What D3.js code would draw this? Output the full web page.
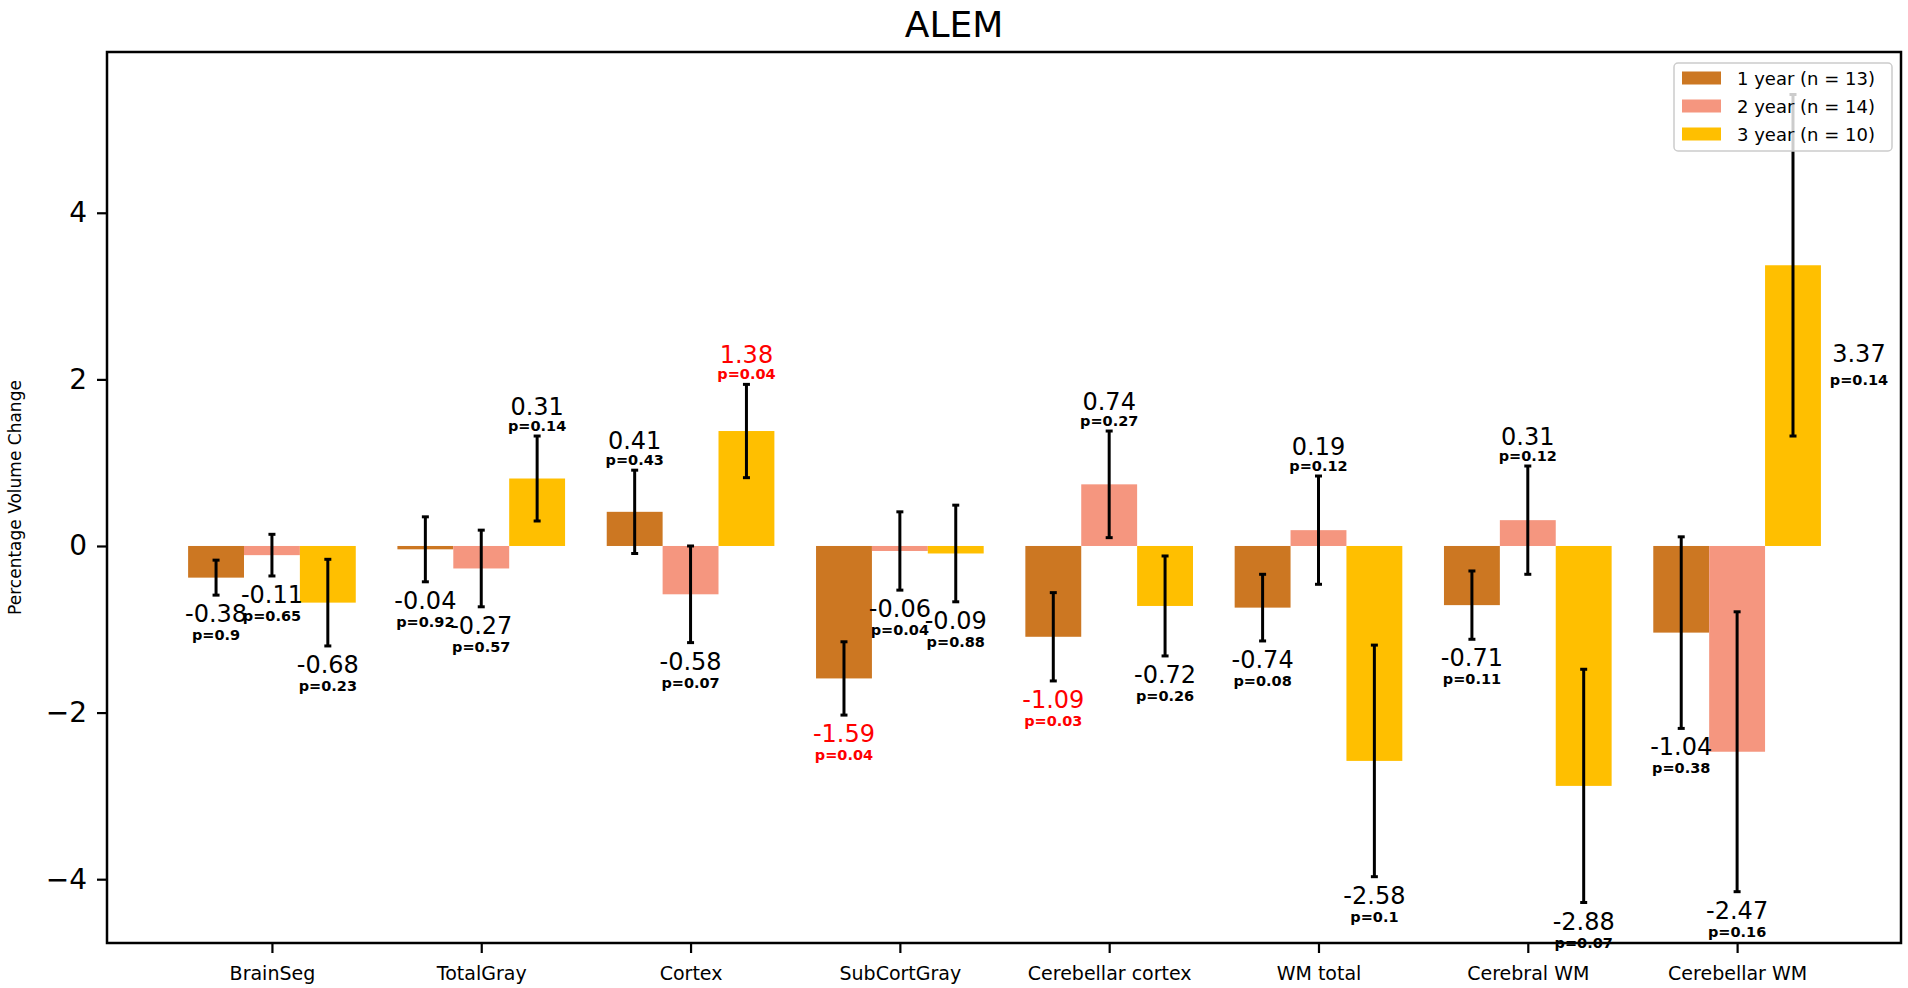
<!DOCTYPE html>
<html>
<head>
<meta charset="utf-8">
<script src="https://cdn.jsdelivr.net/npm/d3@7"></script>
<style>
  body { margin: 0; background: #fff; }
  text { font-family: "DejaVu Sans", sans-serif; }
</style>
</head>
<body>
<div id="vis"><svg></svg></div>
<script>
const categories = ["BrainSeg", "TotalGray", "Cortex", "SubCortGray", "Cerebellar cortex", "WM total", "Cerebral WM", "Cerebellar WM"];
const seriesNames = ["1 year (n = 13)", "2 year (n = 14)", "3 year (n = 10)"];

const year1Values = [-0.38, -0.04, 0.41, -1.59, -1.09, -0.74, -0.71, -1.04];
const year2Values = [-0.11, -0.27, -0.58, -0.06, 0.74, 0.19, 0.31, -2.47];
const year3Values = [-0.68, 0.81, 1.38, -0.09, -0.72, -2.58, -2.88, 3.37];

const year1Errors = [0.21, 0.39, 0.50, 0.44, 0.53, 0.40, 0.41, 1.15];
const year2Errors = [0.25, 0.46, 0.58, 0.47, 0.64, 0.65, 0.65, 1.68];
const year3Errors = [0.52, 0.51, 0.56, 0.58, 0.60, 1.39, 1.40, 2.05];

// printed labels (TotalGray 3 year label differs from its bar in the source)
const year1Labels = ["-0.38", "-0.04", "0.41", "-1.59", "-1.09", "-0.74", "-0.71", "-1.04"];
const year2Labels = ["-0.11", "-0.27", "-0.58", "-0.06", "0.74", "0.19", "0.31", "-2.47"];
const year3Labels = ["-0.68", "0.31", "1.38", "-0.09", "-0.72", "-2.58", "-2.88", "3.37"];

const year1P = [0.9, 0.92, 0.43, 0.04, 0.03, 0.08, 0.11, 0.38];
const year2P = [0.65, 0.57, 0.07, 0.04, 0.27, 0.12, 0.12, 0.16];
const year3P = [0.23, 0.14, 0.04, 0.88, 0.26, 0.1, 0.07, 0.14];

const year1Flag = [false, false, false, true, true, false, false, false];
const year2Flag = [false, false, false, false, false, false, false, false];
const year3Flag = [false, false, true, false, false, false, false, false];

const yTicks = [-4, -2, 0, 2, 4];
const colors = ["#CC7722", "#F5967F", "#FFBF00"];

const W = 1908, H = 988;
const margin = { top: 52, right: 7, bottom: 45, left: 107 };
const barW = 0.267;

const series = [
  { values: year1Values, errors: year1Errors, labels: year1Labels, p: year1P, flag: year1Flag },
  { values: year2Values, errors: year2Errors, labels: year2Labels, p: year2P, flag: year2Flag },
  { values: year3Values, errors: year3Errors, labels: year3Labels, p: year3P, flag: year3Flag }
];

const svg = d3.select("#vis").select("svg").attr("width", W).attr("height", H);

const x = d3.scaleLinear()
  .domain([-0.788, 7.783])
  .range([margin.left, W - margin.right]);
const y = d3.scaleLinear()
  .domain([-4.766, 5.93])
  .range([H - margin.bottom, margin.top]);

const bw = x(barW) - x(0);

// bars + error bars + labels
const items = [];
series.forEach((s, si) => {
  categories.forEach((c, i) => {
    items.push({
      si, i, v: s.values[i], e: s.errors[i], label: s.labels[i],
      p: s.p[i], red: s.flag[i], cx: x(i + (si - 1) * barW)
    });
  });
});

const plot = svg.append("g");

plot.selectAll("rect.bar")
  .data(items)
  .join("rect")
  .attr("class", "bar")
  .attr("x", d => d.cx - bw / 2)
  .attr("width", bw)
  .attr("y", d => y(Math.max(0, d.v)))
  .attr("height", d => Math.abs(y(d.v) - y(0)))
  .attr("fill", d => colors[d.si]);

const err = plot.selectAll("g.err")
  .data(items)
  .join("g")
  .attr("class", "err")
  .attr("stroke", "#000")
  .attr("stroke-width", 3);
err.append("line")
  .attr("x1", d => d.cx).attr("x2", d => d.cx)
  .attr("y1", d => y(d.v + d.e)).attr("y2", d => y(d.v - d.e));
err.append("line")
  .attr("x1", d => d.cx - 3.5).attr("x2", d => d.cx + 3.5)
  .attr("y1", d => y(d.v + d.e)).attr("y2", d => y(d.v + d.e));
err.append("line")
  .attr("x1", d => d.cx - 3.5).attr("x2", d => d.cx + 3.5)
  .attr("y1", d => y(d.v - d.e)).attr("y2", d => y(d.v - d.e));

const yTop = y.domain()[1];
const beside = d => d.v + d.e > yTop - 1;
const lab = plot.selectAll("g.lab")
  .data(items)
  .join("g")
  .attr("class", "lab")
  .attr("text-anchor", "middle")
  .attr("fill", d => d.red ? "#ff0000" : "#000")
  .attr("transform", d => {
    if (beside(d)) {
      // no room above: put label beside the bar
      return `translate(${d.cx + bw * 1.18},${y(d.v - d.e / 2) + 11})`;
    }
    if (d.v >= 0) return `translate(${d.cx},${y(d.v + d.e) - 21})`;
    return `translate(${d.cx},${y(d.v - d.e) + 27})`;
  });
lab.append("text")
  .attr("font-family", "'Open Sans', sans-serif")
  .attr("font-size", 24)
  .text(d => d.label);
lab.append("text")
  .attr("font-family", "'Open Sans', sans-serif")
  .attr("font-size", 14.5)
  .attr("font-weight", "bold")
  .attr("y", d => beside(d) ? 23 : (d.v >= 0 ? 16 : 18))
  .text(d => "p=" + d.p);

// frame
svg.append("rect")
  .attr("x", margin.left).attr("y", margin.top)
  .attr("width", W - margin.left - margin.right)
  .attr("height", H - margin.top - margin.bottom)
  .attr("fill", "none").attr("stroke", "#000").attr("stroke-width", 2.5);

// axes
const xAxis = svg.append("g")
  .attr("transform", `translate(0,${H - margin.bottom})`)
  .call(d3.axisBottom(x).tickValues(d3.range(categories.length)).tickFormat(i => categories[i]).tickSize(10).tickPadding(14));
xAxis.select(".domain").remove();
xAxis.selectAll(".tick line").attr("stroke-width", 2.2);
xAxis.selectAll(".tick text").attr("font-size", 19).attr("font-family", "DejaVu Sans").attr("fill", "#000");

const yAxis = svg.append("g")
  .attr("transform", `translate(${margin.left},0)`)
  .call(d3.axisLeft(y).tickValues(yTicks).tickFormat(d3.format("d")).tickSize(10).tickPadding(10));
yAxis.select(".domain").remove();
yAxis.selectAll(".tick line").attr("stroke-width", 2.2);
yAxis.selectAll(".tick text").attr("font-size", 28).attr("font-family", "DejaVu Sans").attr("fill", "#000");

svg.append("text")
  .attr("transform", `translate(21,${(margin.top + H - margin.bottom) / 2}) rotate(-90)`)
  .attr("text-anchor", "middle")
  .attr("font-size", 17)
  .text("Percentage Volume Change");

svg.append("text")
  .attr("x", W / 2).attr("y", 37)
  .attr("text-anchor", "middle")
  .attr("font-size", 36)
  .text("ALEM");

// legend
const legend = svg.append("g").attr("transform", "translate(1674,63)");
legend.append("rect")
  .attr("width", 218).attr("height", 88).attr("rx", 4)
  .attr("fill", "#fff").attr("fill-opacity", 0.8)
  .attr("stroke", "#cccccc").attr("stroke-width", 1.5);
const row = legend.selectAll("g.row")
  .data(seriesNames)
  .join("g")
  .attr("class", "row")
  .attr("transform", (d, i) => `translate(0,${15 + i * 28})`);
row.append("rect")
  .attr("x", 8).attr("y", -6.5).attr("width", 39).attr("height", 13)
  .attr("fill", (d, i) => colors[i]);
row.append("text")
  .attr("x", 63).attr("y", 6.5)
  .attr("font-size", 18)
  .text(d => d);
</script>
</body>
</html>
